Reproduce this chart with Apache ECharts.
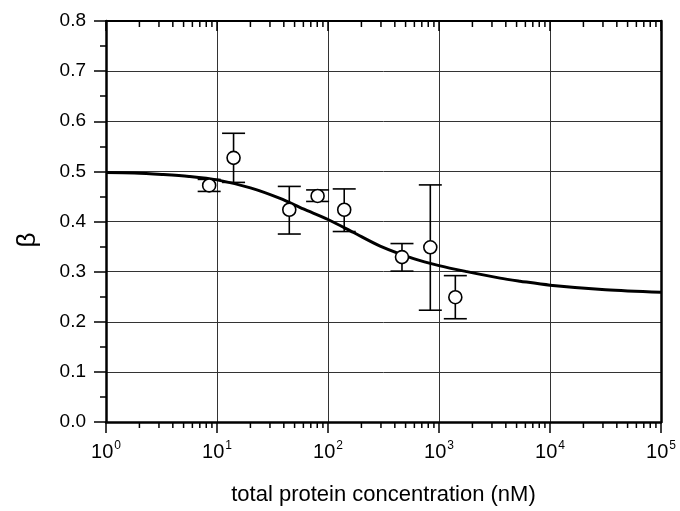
<!DOCTYPE html>
<html>
<head>
<meta charset="utf-8">
<script src="https://cdn.jsdelivr.net/npm/echarts@6/dist/echarts.min.js"></script>
<style>
html,body{margin:0;padding:0;background:#fff;}
#chart{width:680px;height:511px;}
</style>
</head>
<body>
<div id="chart"></div>
<script>
// ---- data ----
var pointX    = [8.5, 14.1, 44.8, 80.6, 140, 464, 835, 1403];
var pointY    = [0.472, 0.527, 0.4235, 0.451, 0.4235, 0.329, 0.3485, 0.249];
var errLow    = [0.460, 0.478, 0.375, 0.440, 0.380, 0.301, 0.223, 0.206];
var errHigh   = [0.484, 0.576, 0.470, 0.463, 0.465, 0.356, 0.473, 0.292];

var curveX = [1, 1.8, 3.2, 5.6, 10, 20, 37, 60, 100, 170, 295, 590, 1000, 1780, 3550, 5370, 10000, 31600, 100000];
var curveY = [0.498, 0.497, 0.494, 0.490, 0.483, 0.467, 0.446, 0.425, 0.404, 0.378, 0.351, 0.326, 0.312, 0.300, 0.287, 0.281, 0.273, 0.264, 0.259];

var yTicks = ['0.0','0.1','0.2','0.3','0.4','0.5','0.6','0.7','0.8'];
var decades = [1, 10, 100, 1000, 10000];
var mantissas = [2, 3, 4, 5, 6, 7, 8, 9];

var minorX = [];
decades.forEach(function (d) { mantissas.forEach(function (m) { minorX.push(m * d); }); });

var FONT = 'Liberation Sans, Arial, sans-serif';

var chart = echarts.init(document.getElementById('chart'), null, {renderer: 'canvas'});

var points = pointX.map(function (x, i) { return [x, pointY[i]]; });
var errs = pointX.map(function (x, i) { return [x, pointY[i], errLow[i], errHigh[i]]; });
var curve = curveX.map(function (x, i) { return [x, curveY[i]]; });

var option = {
  backgroundColor: '#fff',
  animation: false,
  grid: {left: 106, right: 19, top: 21, bottom: 89, containLabel: false},
  xAxis: [{
    type: 'log', logBase: 10, min: 1, max: 100000,
    position: 'bottom',
    name: 'total protein concentration (nM)',
    nameLocation: 'middle', nameGap: 62,
    nameTextStyle: {fontFamily: FONT, fontSize: 22, color: '#000'},
    axisLine: {show: true, onZero: false, lineStyle: {color: '#000', width: 2.5}},
    axisTick: {show: true, inside: false, length: 11, lineStyle: {color: '#000', width: 1.5}},
    minorTick: {show: false},
    splitLine: {show: true, lineStyle: {color: '#333', width: 1}},
    axisLabel: {
      margin: 18,
      fontFamily: FONT, color: '#000',
      formatter: function (v) {
        var e = Math.round(Math.log(v) / Math.LN10);
        return '{b|10}{s|' + e + '}';
      },
      rich: {
        b: {fontFamily: FONT, fontSize: 20, color: '#000', lineHeight: 22, verticalAlign: 'bottom'},
        s: {fontFamily: FONT, fontSize: 12, color: '#000', lineHeight: 22, verticalAlign: 'top', padding: [0, 0, 0, 1]}
      }
    }
  }, {
    type: 'log', logBase: 10, min: 1, max: 100000,
    position: 'top',
    axisLine: {show: true, onZero: false, lineStyle: {color: '#000', width: 2}},
    axisTick: {show: true, inside: true, length: 10, lineStyle: {color: '#000', width: 1.5}},
    axisLabel: {show: false},
    splitLine: {show: false}
  }],
  yAxis: [{
    type: 'value', min: 0, max: 0.8, interval: 0.1,
    axisLine: {show: true, lineStyle: {color: '#000', width: 2.5}},
    axisTick: {show: true, inside: false, length: 12, lineStyle: {color: '#000', width: 1.5}},
    minorTick: {show: true, splitNumber: 2, length: 6, lineStyle: {color: '#000', width: 1.5}},
    splitLine: {show: true, lineStyle: {color: '#333', width: 1}},
    axisLabel: {
      margin: 20, fontFamily: FONT, fontSize: 19, color: '#000',
      formatter: function (v) { return yTicks[Math.round(v * 10)]; }
    }
  }, {
    type: 'value', min: 0, max: 0.8, interval: 0.1,
    position: 'right',
    axisLine: {show: true, lineStyle: {color: '#000', width: 2.5}},
    axisTick: {show: false},
    axisLabel: {show: false},
    splitLine: {show: false}
  }],
  graphic: [{
    type: 'text', x: 28, y: 240, rotation: Math.PI / 2,
    style: {text: 'β', fontFamily: FONT, fontSize: 26, fill: '#000', align: 'center', verticalAlign: 'middle'}
  }],
  series: [{
    type: 'custom',
    xAxisIndex: 0, yAxisIndex: 0,
    clip: false,
    silent: true,
    z: 1,
    data: minorX.map(function (x) { return [x]; }),
    renderItem: function (params, api) {
      var x = api.coord([api.value(0), 0])[0];
      var yb = api.coord([api.value(0), 0])[1];
      var yt = api.coord([api.value(0), 0.8])[1];
      return {type: 'group', children: [
        {type: 'line', shape: {x1: x, y1: yb, x2: x, y2: yb + 6}, style: {stroke: '#000', lineWidth: 1.5}},
        {type: 'line', shape: {x1: x, y1: yt, x2: x, y2: yt + 6}, style: {stroke: '#000', lineWidth: 1.5}}
      ]};
    }
  }, {
    type: 'line',
    data: curve,
    showSymbol: false,
    smooth: 0.3,
    lineStyle: {color: '#000', width: 3},
    z: 3
  }, {
    type: 'custom',
    data: errs,
    z: 4,
    renderItem: function (params, api) {
      var x = api.value(0);
      var lo = api.coord([x, api.value(2)]);
      var hi = api.coord([x, api.value(3)]);
      var hw = 11.5;
      var st = {stroke: '#000', lineWidth: 1.6};
      return {type: 'group', children: [
        {type: 'line', shape: {x1: lo[0], y1: lo[1], x2: hi[0], y2: hi[1]}, style: st},
        {type: 'line', shape: {x1: lo[0] - hw, y1: lo[1], x2: lo[0] + hw, y2: lo[1]}, style: st},
        {type: 'line', shape: {x1: hi[0] - hw, y1: hi[1], x2: hi[0] + hw, y2: hi[1]}, style: st}
      ]};
    }
  }, {
    type: 'scatter',
    data: points,
    symbol: 'circle',
    symbolSize: 13,
    itemStyle: {color: '#fff', borderColor: '#000', borderWidth: 1.6, opacity: 1},
    z: 5
  }]
};
chart.setOption(option);
</script>
</body>
</html>
